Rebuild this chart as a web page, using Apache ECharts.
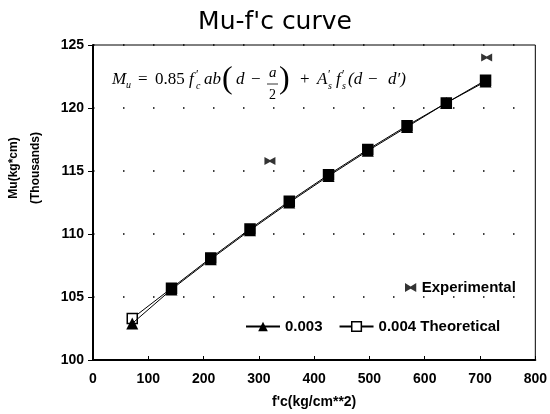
<!DOCTYPE html>
<html>
<head>
<meta charset="utf-8">
<script src="https://cdn.jsdelivr.net/npm/echarts@6/dist/echarts.min.js"></script>
<style>html,body{margin:0;padding:0;background:#fff}#c{width:550px;height:414px}</style>
</head>
<body>
<div id="c"></div>
<script>
// Data
var fcValues = [71, 142, 213, 284, 355, 426, 497, 568, 639, 710];
var mu003 = [102.9, 105.6, 108.0, 110.3, 112.5, 114.6, 116.6, 118.5, 120.4, 122.1];
var mu004 = [103.3, 105.7, 108.1, 110.4, 112.6, 114.7, 116.7, 118.6, 120.4, 122.2];
var expFc = [320, 712];
var expMu = [115.8, 124.0];
var xTicks = [0, 100, 200, 300, 400, 500, 600, 700, 800];
var yTicks = [100, 105, 110, 115, 120, 125];

function pairs(xs, ys) { return xs.map(function (x, i) { return [x, ys[i]]; }); }

var chart = echarts.init(document.getElementById('c'), null, {renderer: 'canvas'});

var serif = '"Liberation Serif", "DejaVu Serif", serif';
function t(str, x, y, size, italic) {
  return {
    type: 'text', x: x, y: y, silent: true,
    style: {
      text: str, fill: '#000', textVerticalAlign: 'middle', textAlign: 'left',
      font: (italic ? 'italic ' : '') + size + 'px ' + serif
    }
  };
}
var formula = [
  t('M', 112, 80, 17, true),
  t('u', 126, 85, 10, true),
  t('=', 138, 80, 17, false),
  t('0.85', 155, 80, 17, false),
  t('f', 189, 80, 17, true),
  t('\u2032', 196, 75, 12, false),
  t('c', 196, 86, 10, true),
  t('ab', 204, 80, 17, true),
  t('(', 222, 80, 32, false),
  t('d', 236, 80, 17, true),
  t('\u2212', 251, 80, 17, false),
  t('a', 269, 73, 15, true),
  {type: 'line', silent: true, shape: {x1: 267, y1: 84, x2: 278, y2: 84}, style: {stroke: '#000', lineWidth: 0.8}},
  t('2', 269, 95, 14, false),
  t(')', 279, 80, 32, false),
  t('+', 300, 80, 17, false),
  t('A', 317, 80, 17, true),
  t('\u2032', 328, 75, 12, false),
  t('s', 328, 86, 10, true),
  t('f', 336, 80, 17, true),
  t('\u2032', 342, 75, 12, false),
  t('s', 342, 86, 10, true),
  t('(d', 348, 80, 17, true),
  t('\u2212', 368, 80, 17, false),
  t('d\u2032)', 388, 80, 17, true)
];

var bold = '"Liberation Sans", Arial, sans-serif';

var sq = pairs(fcValues, mu004).map(function (p, i) {
  return {value: p, itemStyle: {color: i === 0 ? '#fff' : '#000'}};
});

var option = {
  backgroundColor: '#fff',
  animation: false,
  title: {
    text: "Mu-f'c curve",
    left: 'center', top: 5,
    textStyle: {fontFamily: '"DejaVu Sans", sans-serif', fontWeight: 'normal', fontSize: 25, color: '#000'}
  },
  grid: {left: 93, right: 13, top: 45, bottom: 54, show: true, borderColor: '#000', borderWidth: 1},
  xAxis: {
    type: 'value', min: 0, max: 800, interval: 100,
    name: "f'c(kg/cm**2)", nameLocation: 'middle', nameGap: 35,
    nameTextStyle: {fontFamily: bold, fontWeight: 'bold', fontSize: 14, color: '#000'},
    axisLine: {onZero: false, lineStyle: {color: '#000', width: 2}},
    axisTick: {inside: true, length: 4, lineStyle: {color: '#000'}},
    axisLabel: {margin: 12, fontFamily: bold, fontWeight: 'bold', fontSize: 14, color: '#000',
      formatter: function (v) { return xTicks.indexOf(v) >= 0 ? String(v) : ''; }},
    splitLine: {show: false}
  },
  yAxis: {
    type: 'value', min: 100, max: 125, interval: 5,
    axisLine: {onZero: false, lineStyle: {color: '#000', width: 2}},
    axisTick: {inside: false, length: 5, lineStyle: {color: '#000'}},
    axisLabel: {margin: 9, fontFamily: bold, fontWeight: 'bold', fontSize: 14, color: '#000',
      formatter: function (v) { return yTicks.indexOf(v) >= 0 ? String(v) : ''; }},
    splitLine: {show: true, lineStyle: {color: '#000', width: 1.5, type: [1.5, 28.5]}}
  },
  legend: [
    {
      data: ['Experimental'], left: 400, top: 275, itemWidth: 12, itemHeight: 9, itemGap: 6,
      textStyle: {fontFamily: bold, fontWeight: 'bold', fontSize: 15, color: '#000'}
    },
    {
      data: ['0.003', {name: '0.004 Theoretical', itemStyle: {color: '#fff', borderColor: '#000', borderWidth: 1.5}}],
      left: 240, top: 314, itemWidth: 34, itemHeight: 12, itemGap: 16,
      textStyle: {fontFamily: bold, fontWeight: 'bold', fontSize: 15, color: '#000'}
    }
  ],
  graphic: formula.concat([
    {
      type: 'text', x: 25, y: 168, rotation: Math.PI / 2, silent: true,
      style: {
        text: 'Mu(kg*cm)\n(Thousands)', textAlign: 'center', textVerticalAlign: 'middle',
        font: 'bold 12px ' + bold, fill: '#000', lineHeight: 22
      }
    }
  ]),
  series: [
    {
      name: '0.004 Theoretical', type: 'line', data: sq,
      symbol: 'rect', symbolSize: 10, showSymbol: true,
      lineStyle: {color: '#000', width: 1},
      itemStyle: {color: '#000', borderColor: '#000', borderWidth: 1.5},
      z: 2
    },
    {
      name: '0.003', type: 'line', data: pairs(fcValues, mu003),
      symbol: 'triangle', symbolSize: 12, showSymbol: true,
      lineStyle: {color: '#000', width: 1},
      itemStyle: {color: '#000', borderColor: '#000', borderWidth: 0},
      z: 3
    },
    {
      name: 'Experimental', type: 'scatter', data: pairs(expFc, expMu),
      symbol: 'path://M0,0 L5,3 L10,0 L10,8 L5,5 L0,8 Z', symbolSize: [11, 8],
      itemStyle: {color: '#000'},
      z: 4
    }
  ]
};
chart.setOption(option);
</script>
</body>
</html>
